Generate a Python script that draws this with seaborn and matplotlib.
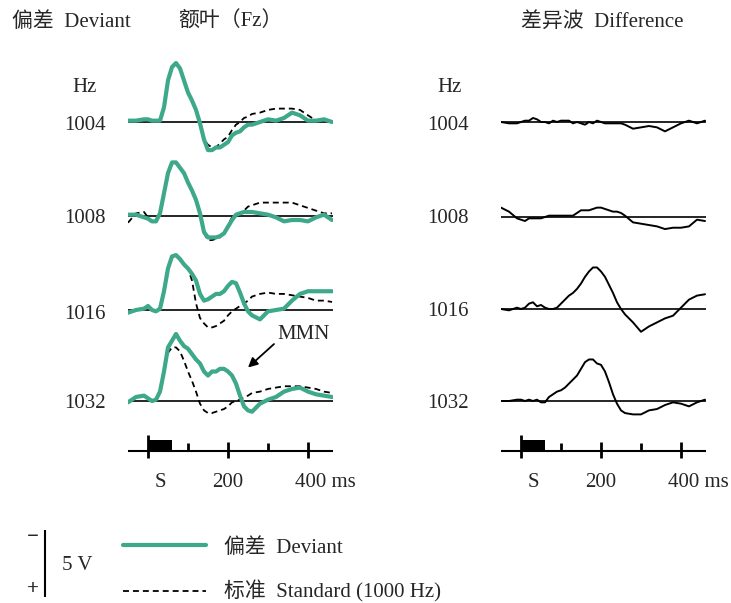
import matplotlib
matplotlib.use("Agg")
import matplotlib.pyplot as plt
import seaborn as sns
from matplotlib.lines import Line2D
from matplotlib.patches import Rectangle

times_ms = [-50, -30, -10, 0, 10, 20, 30, 40, 50, 60, 70, 80, 90, 100, 110, 120,
            130, 140, 150, 160, 170, 180, 190, 200, 210, 220, 230, 240, 250, 260,
            280, 300, 320, 340, 360, 380, 400, 420, 440, 460]

freq_labels = ["1004", "1008", "1016", "1032"]

# amplitudes in uV (negative is plotted up)
deviant_1004 = [-0.1, -0.1, -0.2, -0.2, -0.1, -0.1, -0.1, -1.1, -3.1, -4.1, -4.4, -4.0, -3.1, -2.2, -1.6, -0.9,
                0.1, 1.3, 2.1, 2.1, 1.9, 1.9, 1.7, 1.5, 1.0, 0.8, 0.7, 0.4, 0.2, 0.2,
                0.0, -0.2, -0.1, -0.3, -0.7, -0.5, -0.1, -0.1, -0.2, 0.0]
standard_1004 = [-0.1, -0.1, -0.2, -0.2, -0.1, -0.1, -0.1, -1.1, -3.1, -4.1, -4.4, -4.0, -3.1, -2.2, -1.6, -0.9,
                 0.1, 1.3, 1.7, 1.9, 1.9, 1.6, 1.3, 1.1, 0.6, 0.2, 0.0, -0.3, -0.4, -0.6,
                 -0.7, -0.9, -1.0, -1.0, -1.0, -0.9, -0.5, -0.1, -0.2, 0.0]

deviant_1008 = [-0.1, -0.1, 0.1, 0.2, 0.4, 0.4, -0.2, -1.7, -3.2, -4.0, -4.0, -3.6, -3.2, -2.5, -1.9, -1.2,
                -0.2, 1.2, 1.6, 1.6, 1.6, 1.5, 1.3, 0.8, 0.3, -0.1, -0.2, -0.3, -0.3, -0.3,
                -0.2, -0.1, 0.1, 0.4, 0.3, 0.3, 0.4, 0.1, -0.1, 0.3]
standard_1008 = [0.5, -0.2, -0.3, 0.1, 0.4, 0.4, -0.2, -1.7, -3.2, -4.0, -4.0, -3.6, -3.2, -2.5, -1.9, -1.2,
                 -0.2, 1.3, 1.8, 1.8, 1.7, 1.6, 1.2, 0.7, 0.1, -0.1, -0.2, -0.4, -0.7, -0.8,
                 -1.0, -1.0, -1.0, -1.0, -1.0, -0.8, -0.6, -0.4, -0.2, -0.2]

deviant_1016 = [0.2, 0.0, -0.1, -0.3, 0.0, 0.1, -0.1, -1.4, -3.1, -4.0, -4.1, -3.8, -3.4, -3.1, -2.7, -2.2,
                -1.2, -0.7, -0.8, -1.0, -1.2, -1.2, -1.4, -1.8, -2.1, -2.0, -1.3, -0.5, 0.1, 0.4,
                0.7, 0.1, 0.0, -0.1, -0.7, -1.2, -1.4, -1.4, -1.4, -1.4]
standard_1016 = [0.2, 0.0, -0.1, -0.3, 0.0, 0.1, -0.1, -1.4, -3.1, -4.0, -4.1, -3.8, -3.4, -3.1, -2.2, -0.5,
                 0.6, 1.0, 1.3, 1.3, 1.2, 1.0, 0.8, 0.4, 0.1, -0.1, -0.3, -0.5, -0.7, -1.0,
                 -1.2, -1.3, -1.2, -1.2, -1.1, -1.0, -0.9, -0.7, -0.7, -0.6]

deviant_1032 = [0.1, -0.3, -0.4, -0.2, 0.0, -0.1, -0.7, -2.2, -4.0, -4.5, -5.0, -4.5, -4.1, -3.9, -3.5, -3.1,
                -2.8, -2.2, -1.9, -2.2, -2.2, -2.4, -2.4, -2.2, -1.9, -1.3, -0.4, 0.4, 0.7, 0.8,
                0.2, -0.1, -0.3, -0.7, -0.9, -1.0, -0.7, -0.5, -0.4, -0.3]
standard_1032 = [0.1, -0.3, -0.4, -0.2, 0.0, -0.1, -0.7, -2.2, -3.6, -4.0, -4.0, -3.7, -3.0, -2.2, -1.5, -0.7,
                 0.2, 0.7, 0.9, 0.9, 0.8, 0.7, 0.6, 0.4, 0.1, 0.0, -0.1, -0.3, -0.4, -0.6,
                 -0.7, -0.9, -1.0, -1.1, -1.1, -1.1, -1.0, -0.9, -0.7, -0.6]

difference_1004 = [0.0, 0.1, 0.1, 0.0, -0.1, -0.1, -0.3, -0.2, 0.0, 0.0, 0.1, -0.1, 0.0, -0.1, -0.1, -0.1,
                   0.1, 0.0, 0.1, 0.2, 0.0, 0.1, -0.1, 0.0, 0.1, 0.1, 0.1, 0.1, 0.1, 0.2,
                   0.5, 0.4, 0.3, 0.4, 0.7, 0.4, 0.1, -0.1, 0.1, -0.1]
difference_1008 = [-0.7, -0.4, 0.1, 0.2, 0.3, 0.1, 0.1, 0.1, 0.1, 0.0, -0.1, -0.1, -0.1, -0.1, -0.1, -0.1,
                   -0.1, -0.3, -0.5, -0.5, -0.5, -0.6, -0.7, -0.7, -0.6, -0.5, -0.4, -0.4, -0.3, -0.1,
                   0.4, 0.5, 0.6, 0.7, 0.9, 0.8, 0.8, 0.7, 0.2, 0.3]
difference_1016 = [0.0, 0.1, -0.1, 0.0, -0.1, -0.4, -0.5, -0.2, -0.3, -0.1, 0.0, 0.0, -0.1, -0.4, -0.7, -1.0,
                   -1.2, -1.5, -1.9, -2.4, -2.8, -3.1, -3.1, -2.8, -2.4, -1.8, -1.2, -0.5, 0.0, 0.4,
                   1.0, 1.7, 1.3, 1.0, 0.7, 0.5, -0.1, -0.7, -1.0, -1.1]
difference_1032 = [0.0, 0.0, -0.1, -0.1, 0.0, -0.1, 0.0, -0.1, 0.1, 0.1, -0.3, -0.5, -0.7, -0.8, -1.0, -1.3,
                   -1.6, -1.9, -2.4, -2.9, -3.1, -3.1, -2.8, -2.7, -2.2, -1.4, -0.5, 0.2, 0.7, 0.9,
                   1.0, 1.0, 0.7, 0.6, 0.3, 0.1, 0.2, 0.4, 0.1, -0.1]

deviants = [deviant_1004, deviant_1008, deviant_1016, deviant_1032]
standards = [standard_1004, standard_1008, standard_1016, standard_1032]
differences = [difference_1004, difference_1008, difference_1016, difference_1032]

stim_ms = (0, 60)
major_ticks = [200, 400]
minor_ticks = [100, 300]
scale_uv = 5

GREEN = "#3ea88a"
W, H = 731, 603
PX_PER_UV = 13.4
PX_PER_MS = 0.4
T_MIN = -50
TRACE_W = 205
FS = 15

sns.set_theme(style="white")
plt.rcParams["font.family"] = ["Liberation Serif", "Noto Sans CJK SC"]
plt.rcParams["font.size"] = FS

fig = plt.figure(figsize=(W / 100, H / 100), dpi=100)


def px_axes(left, top, width, height):
    ax = fig.add_axes([left / W, 1 - (top + height) / H, width / W, height / H])
    ax.patch.set_alpha(0)
    return ax


overlay = px_axes(0, 0, W, H)
overlay.set_xlim(0, W)
overlay.set_ylim(H, 0)
overlay.axis("off")


def trace_axes(left, baseline):
    ax = px_axes(left, baseline - 70, TRACE_W, 110)
    ax.set_xlim(T_MIN, T_MIN + TRACE_W / PX_PER_MS)
    ax.set_ylim(40 / PX_PER_UV, -70 / PX_PER_UV)
    ax.axhline(0, color="black", lw=1.2, zorder=1)
    ax.axis("off")
    return ax


def time_axis(left):
    ax = px_axes(left, 428, TRACE_W, 70)
    ax.set_xlim(T_MIN, T_MIN + TRACE_W / PX_PER_MS)
    ax.set_ylim(70, 0)
    ax.axis("off")
    ax.axhline(23, color="black", lw=1.5)
    ax.add_patch(Rectangle((stim_ms[0], 12), stim_ms[1] - stim_ms[0], 11,
                           color="black", lw=0))
    ax.vlines(stim_ms[0], 7, 30, color="black", lw=2)
    ax.vlines(major_ticks, 14, 30, color="black", lw=2)
    ax.vlines(minor_ticks, 15, 23, color="black", lw=2)
    ax.text(30, 59, "S", ha="center", va="baseline")
    ax.text(200, 59, "200", ha="center", va="baseline")
    ax.text(367, 59, "400 ms", ha="left", va="baseline")
    return ax


left_rows = [122, 216, 310, 401]
right_rows = [122, 217, 309, 401]
left_label_y = [130, 223, 319, 408]
right_label_y = [130, 223, 316, 408]

for i, label in enumerate(freq_labels):
    ax = trace_axes(128, left_rows[i])
    sns.lineplot(x=times_ms, y=standards[i], ax=ax, color="black", lw=1.3,
                 dashes=False, linestyle=(0, (3.3, 2.2)), zorder=2)
    sns.lineplot(x=times_ms, y=deviants[i], ax=ax, color=GREEN, lw=3.0, zorder=3)
    ax.axis("off")
    overlay.text(85, left_label_y[i], label, ha="center", va="baseline")
    if label == "1032":
        ax.annotate("", xy=(250, -2.5), xytext=(315, -4.25),
                    arrowprops=dict(arrowstyle="-|>", color="black", lw=1.3,
                                    mutation_scale=14, shrinkA=0, shrinkB=0),
                    annotation_clip=False)
        ax.text(388, -4.6, "MMN", ha="center", va="baseline")

    axr = trace_axes(501, right_rows[i])
    sns.lineplot(x=times_ms, y=differences[i], ax=axr, color="black", lw=1.4)
    axr.axis("off")
    overlay.text(448, right_label_y[i], label, ha="center", va="baseline")

time_axis(128)
time_axis(501)

overlay.text(85, 92, "Hz", ha="center", va="baseline")
overlay.text(450, 92, "Hz", ha="center", va="baseline")
overlay.text(12, 27, "偏差  Deviant", ha="left", va="baseline")
overlay.text(178, 27, "额叶（Fz）", ha="left", va="baseline")
overlay.text(521, 27, "差异波  Difference", ha="left", va="baseline")

# voltage scale bar
sc = px_axes(40, 523.5, 10, 80)
sc.set_xlim(-1, 1)
sc.set_ylim(40 / PX_PER_UV, -40 / PX_PER_UV)
sc.axis("off")
sc.vlines(0, -scale_uv / 2, scale_uv / 2, color="black", lw=1.5)
overlay.text(33, 537, "−", ha="center", va="center", fontweight="bold")
overlay.text(33, 589, "+", ha="center", va="center", fontweight="bold")
overlay.text(62, 570, "5 V", ha="left", va="baseline")

handles = [Line2D([], [], color=GREEN, lw=3.0),
           Line2D([], [], color="black", lw=1.3, linestyle=(0, (3.3, 2.2)))]
fig.legend(handles, ["偏差  Deviant", "标准  Standard (1000 Hz)"],
           loc="upper left", bbox_to_anchor=(123 / W, 1 - 538 / H),
           frameon=False, handlelength=4.0, handletextpad=0.85,
           labelspacing=1.1, borderpad=0, borderaxespad=0, fontsize=FS)

fig.savefig("out.png", dpi=100)
